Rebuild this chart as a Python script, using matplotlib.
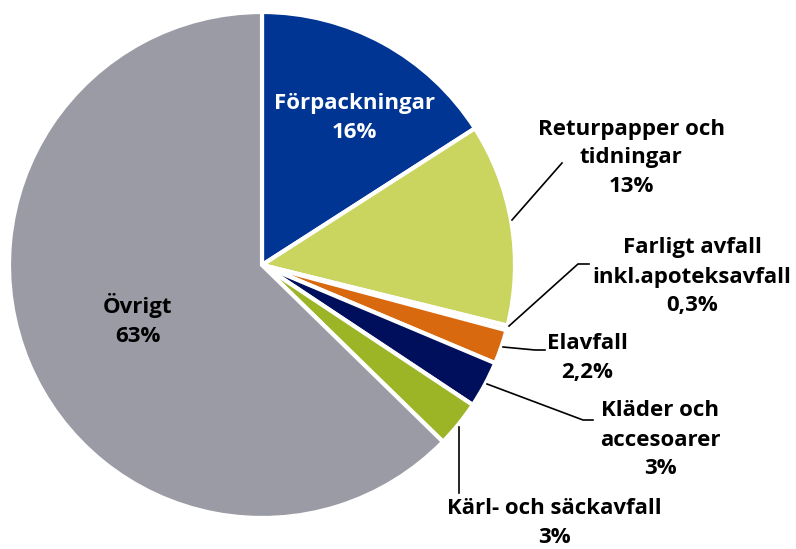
import matplotlib.pyplot as plt

labels = ['Förpackningar', 'Returpapper och\ntidningar', 'Farligt avfall\ninkl.apoteksavfall',
          'Elavfall', 'Kläder och\naccesoarer', 'Kärl- och säckavfall', 'Övrigt']
pct_text = ['16%', '13%', '0,3%', '2,2%', '3%', '3%', '63%']
values = [16, 13, 0.3, 2.2, 3, 3, 63]
colors = ['#003594', '#C9D55F', '#D9DCE0', '#D9690F', '#000F5C', '#9CB526', '#9B9BA6']

plt.rcParams['font.family'] = ['Open Sans', 'DejaVu Sans']

fig = plt.figure(figsize=(7.96, 5.49), dpi=100)
ax = fig.add_axes([0, 0, 1, 1])

H = 549
cx, cy, r = 262, H - 265, 253
ax.pie(values, colors=colors, startangle=90, counterclock=False, center=(cx, cy), radius=r,
       wedgeprops=dict(edgecolor='white', linewidth=3), normalize=True, frame=True)
ax.set_xlim(0, 796)
ax.set_ylim(0, 549)
ax.set_aspect('equal')
ax.axis('off')

fs = 16
kw = dict(fontsize=fs, fontweight='bold', ha='center', va='center', linespacing=1.5)

# labels inside the pie
ax.text(354, H - 118, labels[0] + '\n' + pct_text[0], color='white', **kw)
ax.text(138, H - 320, labels[6] + '\n' + pct_text[6], color='black', **kw)

# outside labels with leader lines
ax.text(631, H - 158, labels[1] + '\n' + pct_text[1], **kw)
ax.plot([512, 562], [H - 220, H - 163], color='black', lw=1.2)

ax.text(692, H - 277, labels[2] + '\n' + pct_text[2], **kw)
ax.plot([509, 578, 589], [H - 326, H - 264, H - 264], color='black', lw=1.2)

ax.text(587, H - 358, labels[3] + '\n' + pct_text[3], **kw)
ax.plot([503, 535, 545], [H - 347, H - 350, H - 350], color='black', lw=1.2)

ax.text(660, H - 440, labels[4] + '\n' + pct_text[4], **kw)
ax.plot([487, 583, 593], [H - 384, H - 420, H - 420], color='black', lw=1.2)

ax.text(554, H - 523, labels[5] + '\n' + pct_text[5], **kw)
ax.plot([459, 459], [H - 427, H - 493], color='black', lw=1.2)

fig.savefig('out.png', dpi=100)
